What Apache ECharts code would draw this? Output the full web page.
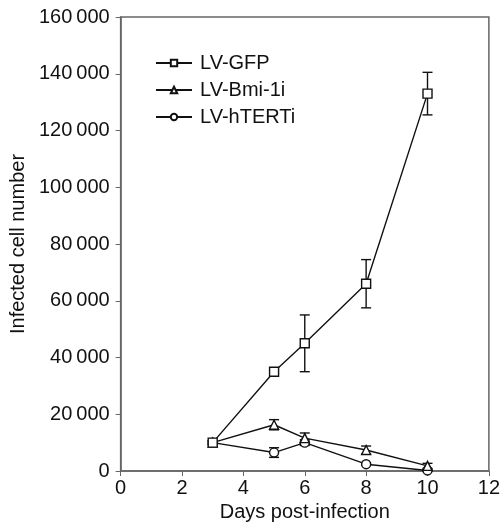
<!DOCTYPE html>
<html>
<head>
<meta charset="utf-8">
<script src="https://cdn.jsdelivr.net/npm/echarts@6/dist/echarts.min.js"></script>
<style>
  html, body { margin: 0; padding: 0; background: #fff; }
  #chart { width: 503px; height: 529px; }
</style>
</head>
<body>
<div id="chart"></div>
<script>
// days post-infection
var days = [3, 5, 6, 8, 10];
// mean infected cell numbers
var gfp = [10000, 35000, 45000, 66000, 133000];
var bmi = [10000, 16300, 11600, 7400, 1800];
var tert = [10000, 6500, 10000, 2400, 200];
// error bar half-widths (SD)
var gfpErr = [500, 700, 10000, 8500, 7500];
var bmiErr = [700, 1800, 1800, 1400, 900];
var tertErr = [600, 1700, 1000, 400, 300];

var names = ['LV-GFP', 'LV-Bmi-1i', 'LV-hTERTi'];
var font = 'Liberation Sans, Arial, sans-serif';

function pairs(ys) {
    return days.map(function (d, i) { return [d, ys[i]]; });
}
function errData(ys, es) {
    return days.map(function (d, i) { return [d, ys[i] - es[i], ys[i] + es[i]]; });
}

// 误差线，上下带短横
function errSeries(ys, es) {
    return {
        type: 'custom',
        silent: true,
        z: 1,
        data: errData(ys, es),
        renderItem: function (params, api) {
            var x = api.value(0);
            var lo = api.coord([x, api.value(1)]);
            var hi = api.coord([x, api.value(2)]);
            var w = 5;
            var style = { stroke: '#111', lineWidth: 1.4 };
            return {
                type: 'group',
                children: [
                    { type: 'line', shape: { x1: lo[0], y1: lo[1], x2: hi[0], y2: hi[1] }, style: style },
                    { type: 'line', shape: { x1: lo[0] - w, y1: lo[1], x2: lo[0] + w, y2: lo[1] }, style: style },
                    { type: 'line', shape: { x1: hi[0] - w, y1: hi[1], x2: hi[0] + w, y2: hi[1] }, style: style }
                ]
            };
        }
    };
}

function lineSeries(name, ys, symbol, size, z) {
    return {
        name: name,
        type: 'line',
        data: pairs(ys),
        symbol: symbol,
        symbolSize: size,
        z: z,
        lineStyle: { color: '#111', width: 1.4 },
        itemStyle: { color: '#fff', borderColor: '#111', borderWidth: 1.4 }
    };
}

var chart = echarts.init(document.getElementById('chart'));
chart.setOption({
    animation: false,
    backgroundColor: '#fff',
    grid: { left: 119, right: 11, top: 17, bottom: 58, show: true, borderColor: '#666', borderWidth: 1.5 },
    legend: {
        left: 150, top: 48,
        orient: 'vertical',
        itemGap: 7,
        itemWidth: 36,
        itemHeight: 8,
        data: names,
        textStyle: { fontFamily: font, fontSize: 20, color: '#111', padding: [0, 0, 0, 3] }
    },
    xAxis: {
        type: 'value',
        min: 0, max: 12, interval: 2,
        name: 'Days post-infection',
        nameLocation: 'middle',
        nameGap: 31,
        nameTextStyle: { fontFamily: font, fontSize: 20, color: '#111' },
        axisLine: { lineStyle: { color: '#666', width: 1.5 } },
        axisTick: { lineStyle: { color: '#666' }, length: 5 },
        axisLabel: { fontFamily: font, fontSize: 20, color: '#111', margin: 7 },
        splitLine: { show: false }
    },
    yAxis: {
        type: 'value',
        min: 0, max: 160000, interval: 20000,
        name: 'Infected cell number',
        nameLocation: 'middle',
        nameGap: 86,
        nameTextStyle: { fontFamily: font, fontSize: 20, color: '#111' },
        axisLine: { show: true, lineStyle: { color: '#666', width: 1.5 } },
        axisTick: { show: true, lineStyle: { color: '#666' }, length: 5 },
        axisLabel: {
            fontFamily: font, fontSize: 20, color: '#111', margin: 11,
            formatter: function (v) { return String(v).replace(/\B(?=(\d{3})+(?!\d))/g, '\u2009'); }
        },
        splitLine: { show: false }
    },
    series: [
        errSeries(gfp, gfpErr),
        errSeries(bmi, bmiErr),
        errSeries(tert, tertErr),
        lineSeries(names[2], tert, 'circle', 9, 3),
        lineSeries(names[1], bmi, 'triangle', 9, 3),
        lineSeries(names[0], gfp, 'rect', 9, 4)
    ]
});
</script>
</body>
</html>
